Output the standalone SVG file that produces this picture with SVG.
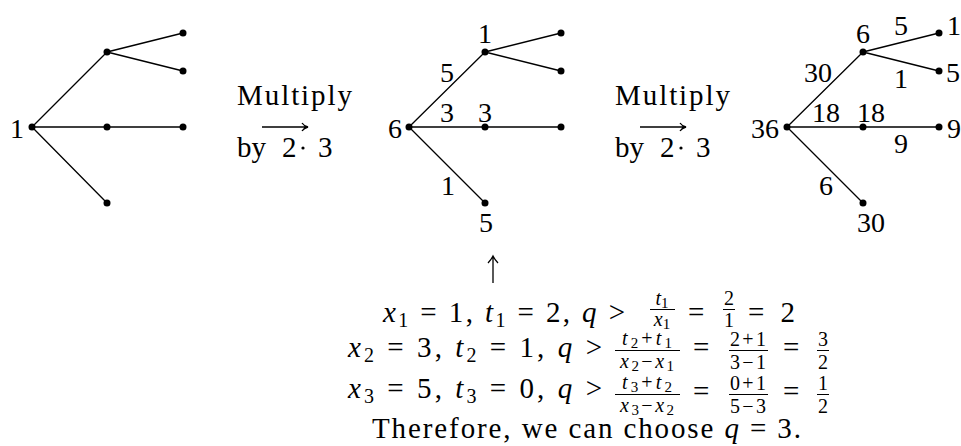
<svg xmlns="http://www.w3.org/2000/svg" width="961" height="446" viewBox="0 0 961 446">
<rect width="961" height="446" fill="#fff"/>
<g id="connectors" stroke="#000" stroke-width="1.3" fill="none">
<path d="M32,127L107,52M107,52L183,33M107,52L183,71M32,127L183,127M32,127L107,203"/>
<path d="M409,127L485,52M485,52L561,33M485,52L561,71M409,127L561,127M409,127L485,203"/>
<path d="M787,127L863,52M863,52L939,33M863,52L939,71M787,127L939,127M787,127L863,203"/>
</g>
<g id="tree1">
<g fill="#000"><circle cx="32" cy="127" r="3.5"/><circle cx="107" cy="52" r="3.5"/><circle cx="183" cy="33" r="3.5"/><circle cx="183" cy="71" r="3.5"/><circle cx="107" cy="127" r="3.5"/><circle cx="183" cy="127" r="3.5"/><circle cx="107" cy="203" r="3.5"/></g>
<text font-family="Liberation Serif" font-size="28" text-anchor="middle" x="17" y="138">1</text>
</g>
<g id="tree2">
<g fill="#000"><circle cx="409" cy="127" r="3.5"/><circle cx="485" cy="52" r="3.5"/><circle cx="561" cy="33" r="3.5"/><circle cx="561" cy="71" r="3.5"/><circle cx="485" cy="127" r="3.5"/><circle cx="561" cy="127" r="3.5"/><circle cx="485" cy="203" r="3.5"/></g>
<text font-family="Liberation Serif" font-size="28" text-anchor="middle" x="395" y="138">6</text>
<text font-family="Liberation Serif" font-size="28" text-anchor="middle" x="485" y="43">1</text>
<text font-family="Liberation Serif" font-size="28" text-anchor="middle" x="447" y="82">5</text>
<text font-family="Liberation Serif" font-size="28" text-anchor="middle" x="447" y="122">3</text>
<text font-family="Liberation Serif" font-size="28" text-anchor="middle" x="485" y="122">3</text>
<text font-family="Liberation Serif" font-size="28" text-anchor="middle" x="448" y="195">1</text>
<text font-family="Liberation Serif" font-size="28" text-anchor="middle" x="486" y="232">5</text>
</g>
<g id="tree3">
<g fill="#000"><circle cx="787" cy="127" r="3.5"/><circle cx="863" cy="52" r="3.5"/><circle cx="939" cy="33" r="3.5"/><circle cx="939" cy="71" r="3.5"/><circle cx="863" cy="127" r="3.5"/><circle cx="939" cy="127" r="3.5"/><circle cx="863" cy="203" r="3.5"/></g>
<text font-family="Liberation Serif" font-size="28" text-anchor="middle" x="765" y="138">36</text>
<text font-family="Liberation Serif" font-size="28" text-anchor="middle" x="863" y="43">6</text>
<text font-family="Liberation Serif" font-size="28" text-anchor="middle" x="901" y="35">5</text>
<text font-family="Liberation Serif" font-size="28" text-anchor="middle" x="954" y="35">1</text>
<text font-family="Liberation Serif" font-size="28" text-anchor="middle" x="818" y="82">30</text>
<text font-family="Liberation Serif" font-size="28" text-anchor="middle" x="901" y="88">1</text>
<text font-family="Liberation Serif" font-size="28" text-anchor="middle" x="953" y="82">5</text>
<text font-family="Liberation Serif" font-size="28" text-anchor="middle" x="826" y="122">18</text>
<text font-family="Liberation Serif" font-size="28" text-anchor="middle" x="871" y="122">18</text>
<text font-family="Liberation Serif" font-size="28" text-anchor="middle" x="954" y="138">9</text>
<text font-family="Liberation Serif" font-size="28" text-anchor="middle" x="901" y="153">9</text>
<text font-family="Liberation Serif" font-size="28" text-anchor="middle" x="826" y="195">6</text>
<text font-family="Liberation Serif" font-size="28" text-anchor="middle" x="871" y="232">30</text>
</g>
<g id="multiply1">
<text font-family="Liberation Serif" font-size="29" x="237" y="105" textLength="115">Multiply</text>
<text font-family="Liberation Serif" font-size="29" x="237" y="157">by</text>
<text font-family="Liberation Serif" font-size="29" x="282" y="157">2</text>
<circle fill="#000" cx="303" cy="148" r="1.6"/>
<text font-family="Liberation Serif" font-size="29" x="318" y="157">3</text>
<path stroke="#000" stroke-width="1.3" fill="none" d="M262,127H307M302,123Q304,126 308,127Q304,128 302,131"/>
</g>
<g id="multiply2">
<text font-family="Liberation Serif" font-size="29" x="615" y="105" textLength="115">Multiply</text>
<text font-family="Liberation Serif" font-size="29" x="615" y="157">by</text>
<text font-family="Liberation Serif" font-size="29" x="660" y="157">2</text>
<circle fill="#000" cx="681" cy="148" r="1.6"/>
<text font-family="Liberation Serif" font-size="29" x="696" y="157">3</text>
<path stroke="#000" stroke-width="1.3" fill="none" d="M640,127H685M680,123Q682,126 686,127Q682,128 680,131"/>
</g>
<g id="explanation">
<path stroke="#000" stroke-width="1.3" fill="none" d="M493,283V257M488,263Q491,260 493,256Q495,260 498,263"/>
<g stroke="#000" stroke-width="1">
<line x1="650" y1="309.5" x2="675" y2="309.5"/>
<line x1="723" y1="309.5" x2="735" y2="309.5"/>
<line x1="615" y1="350.5" x2="680" y2="350.5"/>
<line x1="729" y1="350.5" x2="768" y2="350.5"/>
<line x1="817" y1="350.5" x2="829" y2="350.5"/>
<line x1="615" y1="394.5" x2="680" y2="394.5"/>
<line x1="729" y1="394.5" x2="768" y2="394.5"/>
<line x1="817" y1="394.5" x2="829" y2="394.5"/>
</g>
<text font-family="Liberation Serif" font-size="29" x="383" y="322" textLength="242"><tspan font-style="italic">x</tspan><tspan font-size="20" dy="5">1</tspan><tspan dy="-5"> = 1, </tspan><tspan font-style="italic">t</tspan><tspan font-size="20" dy="5">1</tspan><tspan dy="-5"> = 2, </tspan><tspan font-style="italic">q</tspan> &gt;</text>
<text font-family="Liberation Serif" font-size="20" text-anchor="middle" x="662" y="305"><tspan font-style="italic">t</tspan><tspan font-size="15" dy="3">1</tspan></text>
<text font-family="Liberation Serif" font-size="20" text-anchor="middle" x="662" y="326"><tspan font-style="italic">x</tspan><tspan font-size="15" dy="3">1</tspan></text>
<text font-family="Liberation Serif" font-size="29" x="688" y="322">=</text>
<text font-family="Liberation Serif" font-size="20" text-anchor="middle" x="729" y="305">2</text>
<text font-family="Liberation Serif" font-size="20" text-anchor="middle" x="729" y="327">1</text>
<text font-family="Liberation Serif" font-size="29" x="748" y="322" textLength="47">= 2</text>

<text font-family="Liberation Serif" font-size="29" x="348" y="357" textLength="254"><tspan font-style="italic">x</tspan><tspan font-size="20" dy="5">2</tspan><tspan dy="-5"> = 3, </tspan><tspan font-style="italic">t</tspan><tspan font-size="20" dy="5">2</tspan><tspan dy="-5"> = 1, </tspan><tspan font-style="italic">q</tspan> &gt;</text>
<text font-family="Liberation Serif" font-size="20" text-anchor="middle" x="647" y="345" textLength="50"><tspan font-style="italic">t</tspan><tspan font-size="15" dy="3">2</tspan><tspan dy="-3">+</tspan><tspan font-style="italic">t</tspan><tspan font-size="15" dy="3">1</tspan></text>
<text font-family="Liberation Serif" font-size="20" text-anchor="middle" x="647" y="368" textLength="54"><tspan font-style="italic">x</tspan><tspan font-size="15" dy="3">2</tspan><tspan dy="-3">−</tspan><tspan font-style="italic">x</tspan><tspan font-size="15" dy="3">1</tspan></text>
<text font-family="Liberation Serif" font-size="29" x="693" y="357">=</text>
<text font-family="Liberation Serif" font-size="20" text-anchor="middle" x="748" y="346" textLength="36">2+1</text>
<text font-family="Liberation Serif" font-size="20" text-anchor="middle" x="748" y="369" textLength="36">3−1</text>
<text font-family="Liberation Serif" font-size="29" x="783" y="357">=</text>
<text font-family="Liberation Serif" font-size="20" text-anchor="middle" x="823" y="346">3</text>
<text font-family="Liberation Serif" font-size="20" text-anchor="middle" x="823" y="369">2</text>

<text font-family="Liberation Serif" font-size="29" x="348" y="398" textLength="254"><tspan font-style="italic">x</tspan><tspan font-size="20" dy="5">3</tspan><tspan dy="-5"> = 5, </tspan><tspan font-style="italic">t</tspan><tspan font-size="20" dy="5">3</tspan><tspan dy="-5"> = 0, </tspan><tspan font-style="italic">q</tspan> &gt;</text>
<text font-family="Liberation Serif" font-size="20" text-anchor="middle" x="647" y="389" textLength="50"><tspan font-style="italic">t</tspan><tspan font-size="15" dy="3">3</tspan><tspan dy="-3">+</tspan><tspan font-style="italic">t</tspan><tspan font-size="15" dy="3">2</tspan></text>
<text font-family="Liberation Serif" font-size="20" text-anchor="middle" x="647" y="412" textLength="54"><tspan font-style="italic">x</tspan><tspan font-size="15" dy="3">3</tspan><tspan dy="-3">−</tspan><tspan font-style="italic">x</tspan><tspan font-size="15" dy="3">2</tspan></text>
<text font-family="Liberation Serif" font-size="29" x="693" y="401">=</text>
<text font-family="Liberation Serif" font-size="20" text-anchor="middle" x="748" y="390" textLength="36">0+1</text>
<text font-family="Liberation Serif" font-size="20" text-anchor="middle" x="748" y="413" textLength="36">5−3</text>
<text font-family="Liberation Serif" font-size="29" x="783" y="401">=</text>
<text font-family="Liberation Serif" font-size="20" text-anchor="middle" x="823" y="390">1</text>
<text font-family="Liberation Serif" font-size="20" text-anchor="middle" x="823" y="413">2</text>

<text font-family="Liberation Serif" font-size="29" x="372" y="438" textLength="429">Therefore, we can choose <tspan font-style="italic">q</tspan> = 3.</text>
</g>
</svg>
